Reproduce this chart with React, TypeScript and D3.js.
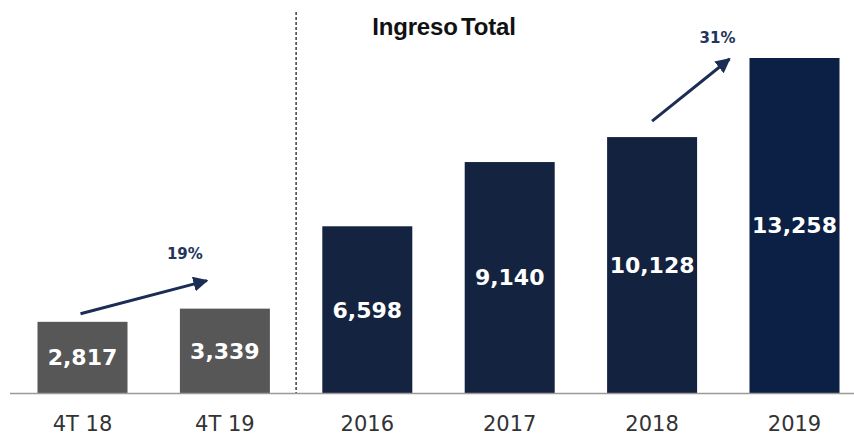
import * as d3 from "d3";

const categories = ["4T 18", "4T 19", "2016", "2017", "2018", "2019"];
const values = [2817, 3339, 6598, 9140, 10128, 13258];
const barColors = ["#575757", "#575757", "#14233f", "#14233f", "#13223f", "#0c1f44"];
const growthLabels = ["19%", "31%"];
const title = "Ingreso Total";

const W = 854;
const H = 436;
const baseY = 393;

const App = () => {
  const x = d3
    .scaleBand<string>()
    .domain(categories)
    .range([11.3, 865.7])
    .paddingInner(0.368)
    .paddingOuter(0.184);
  const y = d3.scaleLinear().domain([0, 13258]).range([baseY, 58]);
  const bw = x.bandwidth();
  const cx = (c: string) => (x(c) ?? 0) + bw / 2;
  const fmt = d3.format(",");

  // arrows anchored on the bars they compare
  const arrows = [
    {
      x1: cx(categories[0]) - 2,
      y1: y(values[0]) - 8,
      x2: cx(categories[1]) - 18,
      y2: y(values[1]) - 28,
      label: growthLabels[0],
      lx: cx(categories[1]) - 40,
      ly: y(values[1]) - 50,
    },
    {
      x1: cx(categories[4]),
      y1: y(values[4]) - 16,
      x2: (x(categories[5]) ?? 0) - 20,
      y2: y(values[5]) + 1,
      label: growthLabels[1],
      lx: (x(categories[5]) ?? 0) - 32,
      ly: y(values[5]) - 15,
    },
  ];

  const dividerX = ((x(categories[1]) ?? 0) + bw + (x(categories[2]) ?? 0)) / 2;

  return (
    <svg
      width={W}
      height={H}
      style={{ position: "absolute", left: 0, top: 0, background: "white" }}
    >
      <defs>
        <marker
          id="head"
          viewBox="0 0 10 10"
          refX="9"
          refY="5"
          markerWidth="5"
          markerHeight="5"
          orient="auto"
          markerUnits="strokeWidth"
        >
          <path d="M0,0 L10,5 L0,10 z" fill="#1b2d55" />
        </marker>
      </defs>

      <line
        x1={dividerX}
        x2={dividerX}
        y1={12}
        y2={baseY}
        stroke="#111"
        strokeWidth={1.2}
        strokeDasharray="3,2"
      />

      <text
        x={444}
        y={35}
        textAnchor="middle"
        fontFamily="Liberation Sans, Arial, sans-serif"
        fontSize={24}
        fontWeight={600}
        letterSpacing={-0.2}
        wordSpacing={-3}
        fill="#111"
      >
        {title}
      </text>

      {categories.map((c, i) => (
        <g key={c}>
          <rect
            x={x(c)}
            y={y(values[i])}
            width={bw}
            height={baseY - y(values[i])}
            fill={barColors[i]}
          />
          <text
            x={cx(c)}
            y={(y(values[i]) + baseY) / 2}
            dy="0.36em"
            textAnchor="middle"
            fontFamily="DejaVu Sans, sans-serif"
            fontWeight="bold"
            fontSize={22}
            fill="white"
          >
            {fmt(values[i])}
          </text>
          <text
            x={cx(c)}
            y={431}
            textAnchor="middle"
            fontFamily="DejaVu Sans, sans-serif"
            fontSize={21}
            fill="#333"
          >
            {c}
          </text>
        </g>
      ))}

      <line x1={10} x2={W} y1={baseY + 0.5} y2={baseY + 0.5} stroke="#9a9a9a" strokeWidth={1.5} />

      {arrows.map((a) => (
        <g key={a.label}>
          <line
            x1={a.x1}
            y1={a.y1}
            x2={a.x2}
            y2={a.y2}
            stroke="#1b2d55"
            strokeWidth={3}
            markerEnd="url(#head)"
          />
          <text
            x={a.lx}
            y={a.ly}
            textAnchor="middle"
            fontFamily="DejaVu Sans, sans-serif"
            fontWeight="bold"
            fontSize={15}
            fill="#23355a"
          >
            {a.label}
          </text>
        </g>
      ))}
    </svg>
  );
};

export default App;
